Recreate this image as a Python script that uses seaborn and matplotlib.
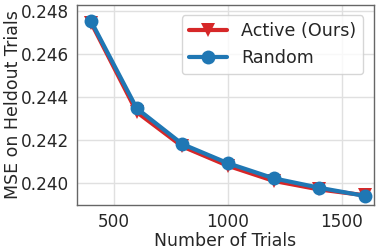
import matplotlib
matplotlib.use("Agg")
import matplotlib.pyplot as plt
import seaborn as sns
import pandas as pd

trials = [400, 600, 800, 1000, 1200, 1400, 1600]
active_mean = [0.24745, 0.24330, 0.24170, 0.24080, 0.24010, 0.23970, 0.23943]
active_err = [0.00010, 0.00012, 0.00008, 0.00006, 0.00006, 0.00005, 0.00005]
random_mean = [0.24752, 0.24347, 0.24181, 0.24092, 0.24022, 0.23978, 0.23940]
random_err = [0.00010, 0.00012, 0.00008, 0.00006, 0.00006, 0.00005, 0.00005]
x_ticks = [500, 1000, 1500]
y_ticks = [0.240, 0.242, 0.244, 0.246, 0.248]

sns.set_style("whitegrid")
plt.rcParams['font.family'] = ['DejaVu Sans']

fig = plt.figure(figsize=(3.82, 2.49), dpi=100)
ax = fig.add_axes([0.2016, 0.177, 0.777, 0.803])

df = pd.DataFrame({
    "trials": trials * 2,
    "mse": active_mean + random_mean,
    "method": ["Active (Ours)"] * len(trials) + ["Random"] * len(trials),
})

colors = {"Active (Ours)": "#d62728", "Random": "#1f77b4"}
markers = {"Active (Ours)": "v", "Random": "o"}
errs = {"Active (Ours)": active_err, "Random": random_err}

for name in ["Active (Ours)", "Random"]:
    sub = df[df.method == name]
    sns.lineplot(data=sub, x="trials", y="mse", ax=ax, color=colors[name],
                 marker=markers[name], markersize=10, linewidth=3,
                 markeredgewidth=0, label=name)
    lo = [m - e for m, e in zip(sub.mse, errs[name])]
    hi = [m + e for m, e in zip(sub.mse, errs[name])]
    ax.fill_between(sub.trials, lo, hi, color=colors[name], alpha=0.2, linewidth=0)

ax.set_xticks(x_ticks)
ax.set_yticks(y_ticks)
ax.set_yticklabels([f"{v:.3f}" for v in y_ticks])
ax.set_xlim(338, 1640)
ax.set_ylim(0.23898, 0.24828)
ax.tick_params(labelsize=12.2, pad=2, length=3.5, width=0.8, color="#666666")
ax.set_xlabel("Number of Trials", fontsize=12.4, labelpad=1)
ax.set_ylabel("MSE on Heldout Trials", fontsize=12.5)
ax.yaxis.set_label_coords(-0.185, 0.5)
for s in ax.spines.values():
    s.set_color("#666666")
    s.set_linewidth(1.0)
ax.grid(True, color="#e0e0e0", linewidth=1)
ax.legend(loc="upper right", fontsize=12.6, frameon=True, handlelength=2.2,
          borderaxespad=0.6)

fig.savefig("out.png", dpi=100)
